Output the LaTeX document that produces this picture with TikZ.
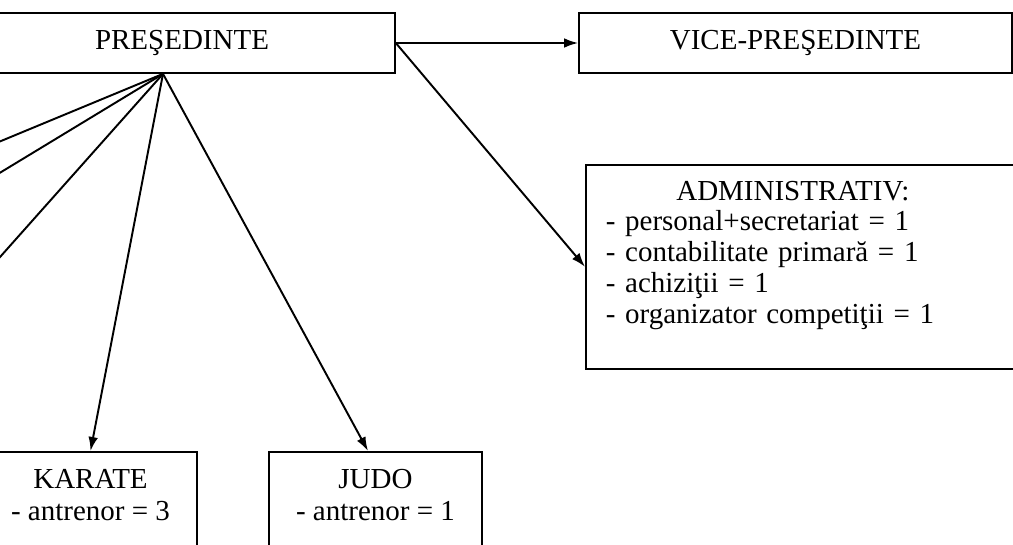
\documentclass[tikz,border=0pt]{standalone}
\usepackage{fontspec}
\setmainfont{Liberation Serif}
\usetikzlibrary{positioning}
\usetikzlibrary{arrows.meta}
\newcommand{\lowstrut}[1]{\rule[-#1]{0pt}{0pt}}
\tikzset{
	office/.style={draw, rectangle, line width=1pt, minimum height=1.2cm, font=\fontsize{16.5}{18}\selectfont},
	dept/.style={draw, rectangle, line width=1pt, anchor=north west, align=left, text width=7.9cm, inner xsep=0.4cm, inner ysep=0.32cm, font=\fontsize{16.5}{17.6}\selectfont},
	% sport sections at the bottom
	sport/.style={draw, rectangle, line width=1pt, anchor=north, align=center, minimum width=4.26cm, inner ysep=0.34cm, font=\fontsize{16.5}{18.7}\selectfont},
}
\begin{document}
\begin{tikzpicture}[x=0.02cm, y=-0.02cm]
	\useasboundingbox (0,0) rectangle (1013,544);
	\clip (0,0) rectangle (1013,544);

	\node (pres) [office, minimum width=8.52cm] at (182,43) {PREŞEDINTE};
	\node (vice) [office, minimum width=8.66cm] at (795.5,43) {VICE-PREŞEDINTE};
	\node (admin) [dept] at (585,164) {\makebox[7.48cm]{ADMINISTRATIV:}\\
		- personal+secretariat = 1\\
		- contabilitate primară = 1\\
		- achiziţii = 1\\
		- organizator competiţii = 1\lowstrut{0.58cm}};
	\node (karate) [sport] at (90.5,451) {KARATE\\- antrenor = 3\lowstrut{1.2cm}};
	\node (judo) [sport] at (375.5,451) {JUDO\\- antrenor = 1\lowstrut{1.2cm}};

	% sections cut off at the left edge
	\coordinate (fan) at ([xshift=-0.38cm]pres.south);
	\coordinate (off1) at (-40,158);
	\coordinate (off2) at (-40,197);
	\coordinate (off3) at (-40,302);

	\begin{scope}[line width=1.1pt, black, ->, >={Latex[length=8pt, width=5.5pt]}]
		\draw (pres.east) -- (vice.west);
		\draw (pres.east) -- (admin.west);
		\draw (fan) -- (off1);
		\draw (fan) -- (off2);
		\draw (fan) -- (off3);
		\draw (fan) -- (karate.north);
		\draw (fan) -- ([xshift=-0.15cm]judo.north);
	\end{scope}
\end{tikzpicture}
\end{document}
